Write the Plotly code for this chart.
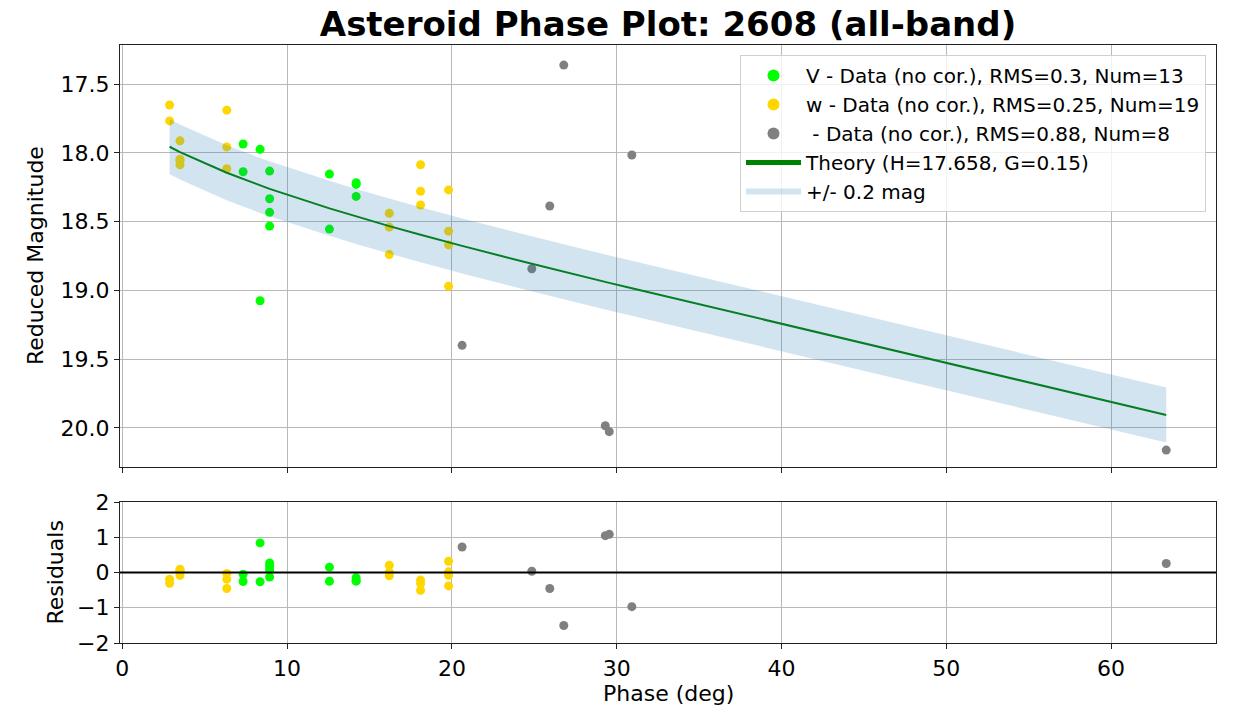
import plotly.graph_objects as go

# ---------------- data ----------------
v_phase = [7.33, 7.33, 8.36, 8.36, 8.94, 8.94, 8.94, 8.94, 12.57, 12.57, 14.19, 14.19, 14.19]
v_mag = [17.936, 18.138, 17.975, 19.076, 18.133, 18.334, 18.433, 18.533, 18.155, 18.555, 18.218, 18.317, 18.230]
v_resid = [-0.255, -0.053, -0.262, 0.839, -0.129, 0.072, 0.171, 0.271, -0.249, 0.151, -0.245, -0.146, -0.233]

w_phase = [2.87, 2.87, 3.50, 3.50, 3.50, 3.50, 6.34, 6.34, 6.34, 16.20, 16.20, 16.20,
           18.10, 18.10, 18.10, 19.80, 19.80, 19.80, 19.80]
w_mag = [17.652, 17.768, 17.913, 18.046, 18.087, 18.060, 17.690, 17.957, 18.116, 18.440, 18.540, 18.740,
         18.087, 18.280, 18.380, 18.270, 18.570, 18.670, 18.970]
w_resid = [-0.304, -0.188, -0.082, 0.051, 0.092, 0.065, -0.455, -0.188, -0.029, -0.093, 0.007, 0.207,
           -0.509, -0.316, -0.216, -0.381, -0.081, 0.019, 0.319]

o_phase = [20.62, 24.85, 25.94, 26.79, 29.31, 29.55, 30.92, 63.35]
o_mag = [19.400, 18.843, 18.387, 17.362, 19.985, 20.028, 18.016, 20.162]
o_resid = [0.723, 0.036, -0.453, -1.503, 1.046, 1.082, -0.969, 0.255]

th_phase = [2.87, 3.50, 6.34, 7.33, 8.36, 8.94, 12.57, 14.19, 16.20, 18.10, 19.80, 20.62,
            24.85, 25.94, 26.79, 29.31, 29.55, 30.92, 63.35]
th_mag = [17.956, 17.995, 18.145, 18.191, 18.237, 18.262, 18.404, 18.463, 18.533, 18.596, 18.651, 18.677,
          18.807, 18.840, 18.865, 18.939, 18.946, 18.985, 19.907]
band = 0.2

names = ["V - Data (no cor.), RMS=0.3, Num=13",
         "w - Data (no cor.), RMS=0.25, Num=19",
         "\u00a0- Data (no cor.), RMS=0.88, Num=8",
         "Theory (H=17.658, G=0.15)",
         "+/- 0.2 mag"]

x_ticks = [0, 10, 20, 30, 40, 50, 60]
y_ticks = [17.5, 18.0, 18.5, 19.0, 19.5, 20.0]
r_ticks = [-2, -1, 0, 1, 2]

# ---------------- figure ----------------
FONT = "DejaVu Sans"
c_v, c_w, c_o = "#00ff00", "#ffd700", "#808080"
msize = 9

fig = go.Figure()
fig.add_trace(go.Scatter(x=v_phase, y=v_mag, mode="markers", name=names[0],
                         marker=dict(color=c_v, size=msize), xaxis="x", yaxis="y"))
fig.add_trace(go.Scatter(x=w_phase, y=w_mag, mode="markers", name=names[1],
                         marker=dict(color=c_w, size=msize), xaxis="x", yaxis="y"))
fig.add_trace(go.Scatter(x=o_phase, y=o_mag, mode="markers", name=names[2],
                         marker=dict(color=c_o, size=msize), xaxis="x", yaxis="y"))
fig.add_trace(go.Scatter(x=th_phase, y=th_mag, mode="lines", name=names[3],
                         line=dict(color="#008000", width=2), xaxis="x", yaxis="y"))
band_x = th_phase + th_phase[::-1]
band_y = [m - band for m in th_mag] + [m + band for m in th_mag[::-1]]
fig.add_trace(go.Scatter(x=band_x, y=band_y, mode="none", fill="toself", name=names[4],
                         fillcolor="rgba(31,119,180,0.2)",
                         xaxis="x", yaxis="y"))

# residuals
fig.add_trace(go.Scatter(x=v_phase, y=v_resid, mode="markers", showlegend=False,
                         marker=dict(color=c_v, size=msize), xaxis="x2", yaxis="y2"))
fig.add_trace(go.Scatter(x=w_phase, y=w_resid, mode="markers", showlegend=False,
                         marker=dict(color=c_w, size=msize), xaxis="x2", yaxis="y2"))
fig.add_trace(go.Scatter(x=o_phase, y=o_resid, mode="markers", showlegend=False,
                         marker=dict(color=c_o, size=msize), xaxis="x2", yaxis="y2"))

fig.add_shape(type="line", xref="x2 domain", yref="y2", x0=0, x1=1, y0=0, y1=0,
              line=dict(color="black", width=2), layer="above")

L, R, T, B = 120, 17, 45, 70
W, H = 1233, 713
ph = H - T - B
top_dom = [(643 - 467) / ph, 1.0]
bot_dom = [0.0, (643 - 502) / ph]

axis_common = dict(showgrid=True, gridcolor="#b8b8b8", gridwidth=1,
                   showline=True, linecolor="#222", linewidth=1.2, mirror=True,
                   ticks="outside", ticklen=5, tickwidth=1.2, tickcolor="#222",
                   zeroline=False,
                   tickfont=dict(family=FONT, size=22, color="black"))

xr = [-0.14, 66.37]
fig.update_layout(
    width=W, height=H,
    margin=dict(l=L, r=R, t=T, b=B),
    paper_bgcolor="white", plot_bgcolor="white",
    font=dict(family=FONT, color="black"),
    title=dict(text="<b>Asteroid Phase Plot: 2608 (all-band)</b>",
               font=dict(family=FONT, size=34, color="black"),
               x=0.5, xref="paper", xanchor="center",
               y=1 - 24 / H, yref="container", yanchor="middle"),
    xaxis=dict(domain=[0, 1], anchor="y", range=xr, tickvals=x_ticks,
               showticklabels=False, **axis_common),
    yaxis=dict(domain=top_dom, anchor="x", range=[20.285, 17.216], tickvals=y_ticks,
               tickformat=".1f", **axis_common),
    xaxis2=dict(domain=[0, 1], anchor="y2", range=xr, tickvals=x_ticks, matches="x",
                **axis_common),
    yaxis2=dict(domain=bot_dom, anchor="x2", range=[-2, 2], tickvals=r_ticks,
                **axis_common),
    legend=dict(x=(1206 - L) / (W - L - R), xanchor="right",
                y=(643 - 55) / ph, yanchor="top",
                bgcolor="rgba(255,255,255,0.8)", bordercolor="#d0d0d0", borderwidth=1,
                font=dict(family=FONT, size=20, color="black"),
                itemsizing="constant", itemwidth=55),
    showlegend=True,
)

pw = W - L - R
fig.add_annotation(text="Reduced Magnitude", xref="paper", yref="paper",
                   x=(35 - L) / pw, y=(top_dom[0] + top_dom[1]) / 2, textangle=-90,
                   showarrow=False, xanchor="center", yanchor="middle",
                   font=dict(family=FONT, size=22, color="black"))
fig.add_annotation(text="Residuals", xref="paper", yref="paper",
                   x=(55 - L) / pw, y=(bot_dom[0] + bot_dom[1]) / 2, textangle=-90,
                   showarrow=False, xanchor="center", yanchor="middle",
                   font=dict(family=FONT, size=22, color="black"))
fig.add_annotation(text="Phase (deg)", xref="paper", yref="paper",
                   x=0.5, y=(643 - 693) / ph,
                   showarrow=False, xanchor="center", yanchor="middle",
                   font=dict(family=FONT, size=22, color="black"))

fig.write_html("out.html")
